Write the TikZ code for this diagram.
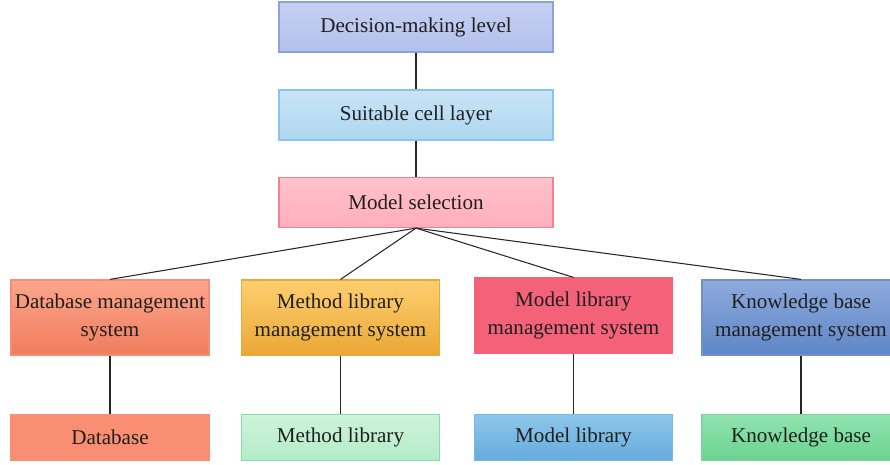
\documentclass[tikz,border=0pt]{standalone}
\usepackage{fontspec}
\setmainfont{Liberation Serif}
\usepackage{tikz}
\usetikzlibrary{positioning, calc}
\usepackage{xcolor}
\definecolor{cLavTop}{RGB}{198,208,242}
\definecolor{cLavBot}{RGB}{178,192,236}
\definecolor{cLavLine}{RGB}{140,162,216}
\definecolor{cSkyTop}{RGB}{200,228,246}
\definecolor{cSkyBot}{RGB}{174,214,240}
\definecolor{cSkyLine}{RGB}{138,196,232}
\definecolor{cPinkTop}{RGB}{255,194,204}
\definecolor{cPinkBot}{RGB}{255,174,188}
\definecolor{cPinkLine}{RGB}{240,128,146}
\definecolor{cSalTop}{RGB}{252,166,140}
\definecolor{cSalBot}{RGB}{240,124,94}
\definecolor{cSalLine}{RGB}{246,140,116}
\definecolor{cAmbTop}{RGB}{255,206,112}
\definecolor{cAmbBot}{RGB}{234,168,54}
\definecolor{cRose}{RGB}{244,98,122}
\definecolor{cSteelTop}{RGB}{142,170,220}
\definecolor{cSteelBot}{RGB}{94,134,198}
\definecolor{cSteelLine}{RGB}{110,146,206}
\definecolor{cCoral}{RGB}{250,142,114}
\definecolor{cMintTop}{RGB}{206,243,218}
\definecolor{cMintBot}{RGB}{180,236,200}
\definecolor{cMintLine}{RGB}{142,218,168}
\definecolor{cBlueTop}{RGB}{142,198,234}
\definecolor{cBlueBot}{RGB}{102,172,220}
\definecolor{cBlueLine}{RGB}{120,184,226}
\definecolor{cGrnTop}{RGB}{146,228,176}
\definecolor{cGrnBot}{RGB}{106,210,144}
\definecolor{cGrnLine}{RGB}{120,214,156}
\tikzset{
  basebox/.style={rectangle, align=center, inner sep=0pt, line width=0.7pt,
                  font=\fontsize{12}{15.5}\selectfont, text=black!88},
  topnode/.style={basebox, minimum width=5.48cm, minimum height=1.0cm},
  sysnode/.style={basebox, minimum width=3.96cm, minimum height=1.5cm},
  storenode/.style={basebox, minimum width=3.96cm, minimum height=0.92cm},
  link/.style={line width=0.6pt, color=black!85}
}

\begin{document}
\begin{tikzpicture}[x=0.02cm, y=-0.02cm]
  \useasboundingbox (0,0) rectangle (890,464);

  % Upper chain
  \node[topnode, top color=cLavTop, bottom color=cLavBot, draw=cLavLine]
      (decision) at (416,27) {Decision-making level};
  \node[topnode, top color=cSkyTop, bottom color=cSkyBot, draw=cSkyLine]
      (cell) at (416,115) {Suitable cell layer};
  \node[topnode, top color=cPinkTop, bottom color=cPinkBot, draw=cPinkLine]
      (select) at (416,202.5) {Model selection};

  % Management systems
  \node[sysnode, top color=cSalTop, bottom color=cSalBot, draw=cSalLine]
      (dbms) at (110,317.5) {Database management\\system};
  \node[sysnode, top color=cAmbTop, bottom color=cAmbBot, draw=cAmbBot]
      (mlms) at (340.5,317.5) {Method library\\management system};
  \node[sysnode, fill=cRose, draw=cRose]
      (molms) at (573.5,315.5) {Model library\\management system};
  \node[sysnode, top color=cSteelTop, bottom color=cSteelBot, draw=cSteelLine]
      (kbms) at (801,317.5) {Knowledge base\\management system};

  % Stores
  \node[storenode, fill=cCoral, draw=cCoral, below=1.16cm of dbms] (db) {Database};
  \node[storenode, top color=cMintTop, bottom color=cMintBot, draw=cMintLine,
        below=1.16cm of mlms] (mlib) {Method library};
  \node[storenode, top color=cBlueTop, bottom color=cBlueBot, draw=cBlueLine,
        below=1.2cm of molms] (molib) {Model library};
  \node[storenode, top color=cGrnTop, bottom color=cGrnBot, draw=cGrnLine,
        below=1.16cm of kbms] (kb) {Knowledge base};

  % Connectors
  \draw[link] (decision) -- (cell);
  \draw[link] (cell) -- (select);
  \foreach \sys in {dbms, mlms, molms, kbms}
    \draw[link] (select.south) -- (\sys.north);
  \draw[link] (dbms) -- (db);
  \draw[link] (mlms) -- (mlib);
  \draw[link] (molms) -- (molib);
  \draw[link] (kbms) -- (kb);

\end{tikzpicture}
\end{document}
